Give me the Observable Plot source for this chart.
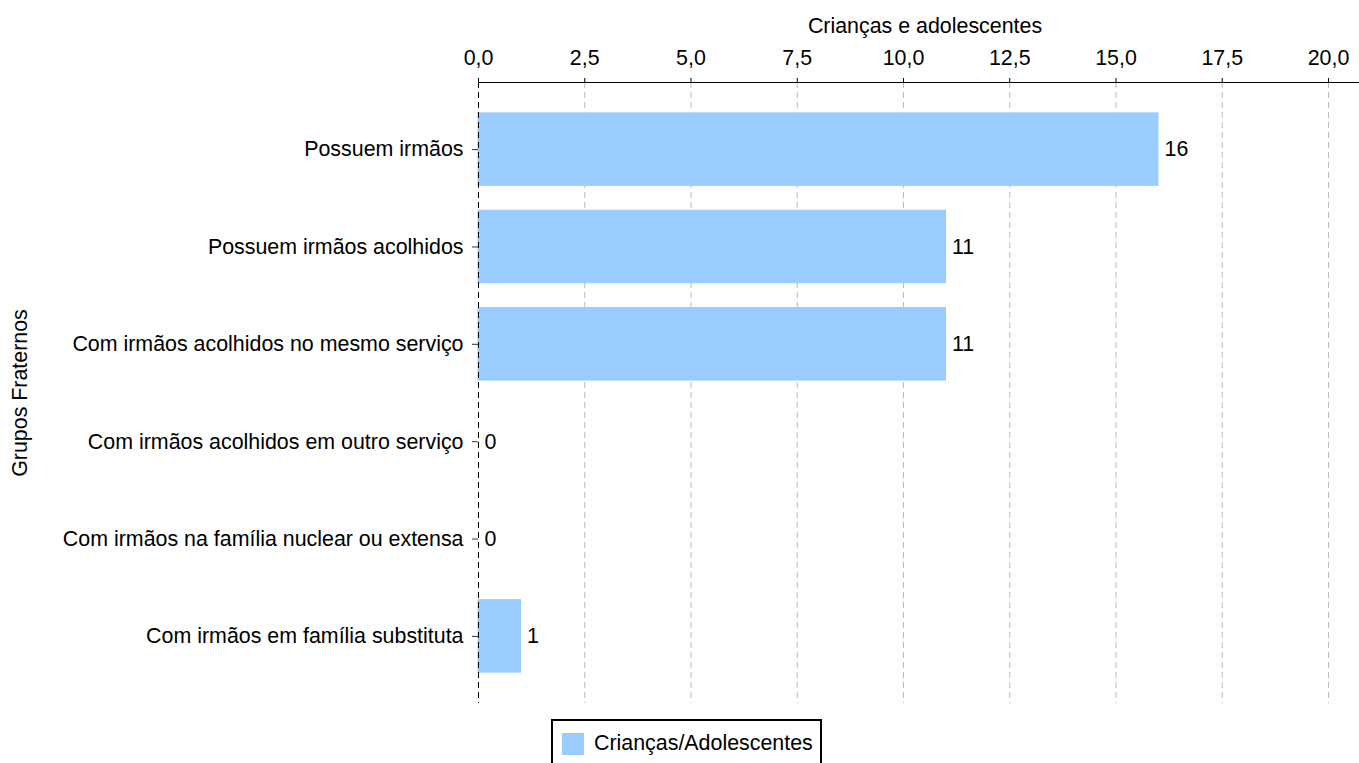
<!DOCTYPE html>
<html>
<head>
<meta charset="utf-8">
<script src="https://cdn.jsdelivr.net/npm/d3@7"></script>
<script src="https://cdn.jsdelivr.net/npm/@observablehq/plot@0.6"></script>
<style>
  html, body { margin: 0; padding: 0; background: #fff; overflow: hidden; }
  body { width: 1359px; height: 763px; position: relative; font-family: "Liberation Sans", Arial, sans-serif; }
  #legend { position: absolute; left: 551px; top: 719px; width: 271px; height: 60px; border: 2px solid #000; box-sizing: border-box; background: #fff; }
  #legend .sw { position: absolute; left: 9px; top: 12px; width: 22px; height: 22px; background: #99ccff; }
  #legend .lb { position: absolute; left: 41px; top: 10px; font-size: 21.4px; color: #000; white-space: nowrap; }
</style>
</head>
<body>
<div id="chart"></div>
<div id="legend"><div class="sw"></div><div class="lb">Crianças/Adolescentes</div></div>
<script>
const categories = [
  "Possuem irmãos",
  "Possuem irmãos acolhidos",
  "Com irmãos acolhidos no mesmo serviço",
  "Com irmãos acolhidos em outro serviço",
  "Com irmãos na família nuclear ou extensa",
  "Com irmãos em família substituta"
];
const values = [16, 11, 11, 0, 0, 1];
const xTicks = [0, 2.5, 5, 7.5, 10, 12.5, 15, 17.5, 20];
const xLabel = "Crianças e adolescentes";
const yLabel = "Grupos Fraternos";
const seriesName = "Crianças/Adolescentes";

const data = categories.map((c, i) => ({cat: c, value: values[i]}));
const fmt = d => d.toFixed(1).replace(".", ",");

const chart = Plot.plot({
  width: 1359,
  height: 716,
  marginTop: 82,
  marginBottom: 13,
  marginLeft: 478,
  marginRight: 0,
  style: {fontFamily: "'Liberation Sans', Arial, sans-serif", fontSize: "21.4px", color: "#000", background: "#fff"},
  x: {domain: [0, 20.73]},
  y: {domain: categories, paddingInner: 0.256, paddingOuter: 0.317, round: false},
  marks: [
    Plot.gridX(xTicks, {stroke: "#bbb", strokeOpacity: 1, strokeDasharray: "6,4"}),
    Plot.barX(data, {x: "value", y: "cat", fill: "#99ccff", stroke: "#99ccff", strokeWidth: 1}),
    Plot.ruleX([0], {stroke: "#000", strokeDasharray: "6,4"}),
    Plot.frame({anchor: "top", stroke: "#000"}),
    Plot.axisX({anchor: "top", ticks: xTicks, tickFormat: fmt, tickSize: 5, tickPadding: 13, label: null, stroke: "#000"}),
    Plot.axisY({tickSize: 6, tickPadding: 9, label: null, stroke: "#333"}),
    Plot.text(data, {x: "value", y: "cat", text: d => String(d.value), dx: 6, textAnchor: "start", fill: "#000"}),
    Plot.text([xLabel], {frameAnchor: "top", dy: -65, dx: 6, fill: "#000"}),
    Plot.text([yLabel], {frameAnchor: "left", rotate: -90, textAnchor: "middle", dx: -458, fill: "#000"})
  ]
});
document.getElementById("chart").appendChild(chart);
</script>
</body>
</html>
